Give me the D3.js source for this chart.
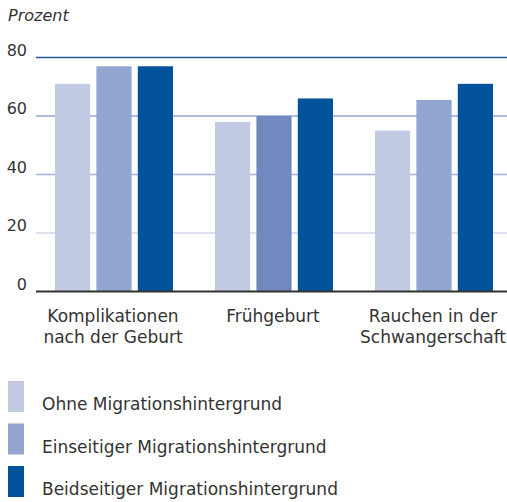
<!DOCTYPE html>
<html>
<head>
<meta charset="utf-8">
<script src="https://cdn.jsdelivr.net/npm/d3@7"></script>
<style>
  body { margin: 0; background: #fff; }
  svg { display: block; font-family: "DejaVu Sans", sans-serif; }
</style>
</head>
<body>
<svg id="chart"></svg>
<script>
var categories = [["Komplikationen", "nach der Geburt"], ["Frühgeburt"], ["Rauchen in der", "Schwangerschaft"]];
var series = ["Ohne Migrationshintergrund", "Einseitiger Migrationshintergrund", "Beidseitiger Migrationshintergrund"];
var values = [
  [71, 58, 55],
  [77, 60, 65.5],
  [77, 66, 71]
];
var yTicks = [0, 20, 40, 60, 80];

function init(){
    var width = 507, height = 502;
    var colors = ["#c3cae3", "#92a6cf", "#03529c"];
    var gridColors = {20: "#d3d9eb", 40: "#9fb2da", 60: "#93a7d0", 80: "#1f5b9f"};

    var svg = d3.select("svg#chart")
      .attr("width", width)
      .attr("height", height);

    var catKeys = categories.map(function(c){ return c.join(" "); });

    var x = d3.scaleBand()
      .domain(catKeys)
      .range([34, 514]);

    var xs = d3.scaleBand()
      .domain(series)
      .range([21, 139])
      .paddingInner(0.15);

    var y = d3.scaleLinear()
      .domain([0, 80])
      .range([291.5, 57.5]);

    // unit label
    svg.append("text")
      .attr("x", 8).attr("y", 21)
      .style("font-style", "italic")
      .style("font-size", "16px")
      .attr("fill", "#333")
      .text("Prozent");

    // gridlines
    svg.append("g").selectAll("line")
      .data(yTicks.filter(function(t){ return t > 0; }))
      .enter().append("line")
        .attr("x1", 36).attr("x2", width)
        .attr("y1", function(d){ return y(d); })
        .attr("y2", function(d){ return y(d); })
        .attr("stroke", function(d){ return gridColors[d]; })
        .attr("stroke-width", 1.5);

    // tick labels
    svg.append("g").selectAll("text")
      .data(yTicks)
      .enter().append("text")
        .attr("x", 27)
        .attr("y", function(d){ return y(d) - 2; })
        .attr("text-anchor", "end")
        .style("font-size", "16px")
        .attr("fill", "#333")
        .text(function(d){ return d; });

    // bars
    var groups = svg.append("g").selectAll("g")
      .data(catKeys)
      .enter().append("g")
        .attr("transform", function(d){ return "translate(" + x(d) + ",0)"; });

    groups.selectAll("rect")
      .data(function(d, i){
          return series.map(function(s, j){ return {s: s, j: j, i: i, v: values[j][i]}; });
      })
      .enter().append("rect")
        .attr("x", function(d){ return xs(d.s); })
        .attr("width", xs.bandwidth())
        .attr("y", function(d){ return y(d.v); })
        .attr("height", function(d){ return y(0) - y(d.v); })
        .attr("fill", function(d){ return (d.i === 1 && d.j === 1) ? "#7289bf" : colors[d.j]; });

    // baseline
    svg.append("line")
      .attr("x1", 36).attr("x2", width)
      .attr("y1", y(0)).attr("y2", y(0))
      .attr("stroke", "#333")
      .attr("stroke-width", 2);

    // category labels
    var labels = svg.append("g").selectAll("text")
      .data(categories)
      .enter().append("text")
        .attr("x", function(d){ return x(d.join(" ")) + x.bandwidth() / 2 - 1; })
        .attr("y", 322)
        .attr("text-anchor", "middle")
        .style("font-size", "17px")
        .attr("fill", "#333");
    labels.selectAll("tspan")
      .data(function(d){ return d; })
      .enter().append("tspan")
        .attr("x", function(){ return d3.select(this.parentNode).attr("x"); })
        .attr("dy", function(d, i){ return i ? 21 : 0; })
        .text(function(d){ return d; });

    // legend
    var legend = svg.append("g").selectAll("g")
      .data(series)
      .enter().append("g")
        .attr("transform", function(d, i){ return "translate(8," + (381 + i * 42.5) + ")"; });
    legend.append("rect")
      .attr("width", 16).attr("height", 31)
      .attr("fill", function(d, i){ return colors[i]; });
    legend.append("text")
      .attr("x", 34).attr("y", 29)
      .style("font-size", "17px")
      .attr("fill", "#333")
      .text(function(d){ return d; });
}

init();
</script>
</body>
</html>
